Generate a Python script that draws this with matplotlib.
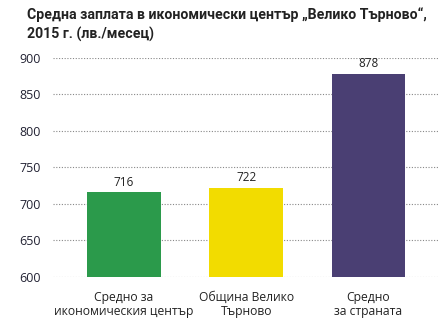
import matplotlib.pyplot as plt

plt.rcParams['font.family'] = ['Open Sans', 'DejaVu Sans']

# Data
categories = ['Средно за\nикономическия център', 'Община Велико\nТърново', 'Средно\nза страната']
values = [716, 722, 878]
colors = ['#2b9a4b', '#f2dc00', '#4a3f73']

fig = plt.figure(figsize=(4.43, 3.25), dpi=100)
ax = fig.add_axes([53 / 443, 1 - 277 / 325, 385 / 443, 219 / 325])

x = range(len(categories))
bars = ax.bar(x, values, width=0.6, color=colors, zorder=3)
for xi, v in zip(x, values):
    ax.text(xi, v + 5, str(v), ha='center', va='bottom', fontsize=8.5, color='#222222')

ax.set_ylim(600, 900)
ax.set_xlim(-0.58, 2.57)
ax.set_yticks(range(600, 901, 50))
ax.set_xticks(list(x))
ax.set_xticklabels(categories, fontsize=8.7, color='#222222', linespacing=1.1)
ax.tick_params(axis='y', length=0, labelsize=9, labelcolor='#222233', pad=9)
ax.tick_params(axis='x', length=0, pad=10)
ax.grid(axis='y', linestyle=(0, (1, 1.5)), color='#888888', linewidth=0.8, zorder=0)
for s in ax.spines.values():
    s.set_visible(False)

fig.text(27 / 443, 1 - 7 / 325, 'Средна заплата в икономически център „Велико Търново“,\n2015 г. (лв./месец)',
         ha='left', va='top', fontsize=10.2, fontweight='bold', color='#222222', linespacing=1.4,
         family=['Roboto', 'DejaVu Sans'])

fig.savefig('out.png', dpi=100)
